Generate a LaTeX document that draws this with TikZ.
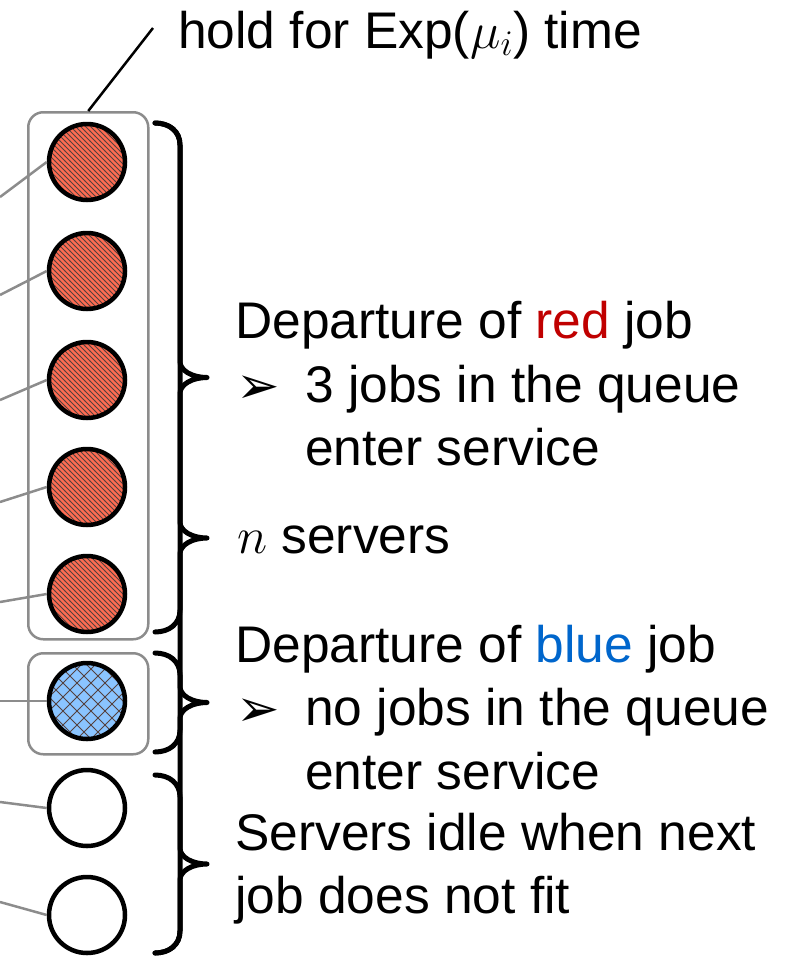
\RequirePackage{fix-cm}
\documentclass[tikz,border=0pt]{standalone}
\usepackage{fontspec}
\setmainfont{Liberation Sans}
\newfontfamily\symfont{DejaVu Sans}
\usetikzlibrary{patterns}
\definecolor{jobred}{RGB}{255,108,82}
\definecolor{jobblue}{RGB}{138,196,255}
\definecolor{hatchcol}{RGB}{85,65,62}
\definecolor{boxgray}{RGB}{140,140,140}
\definecolor{txtred}{RGB}{192,0,0}
\definecolor{txtblue}{RGB}{0,102,204}
\pgfdeclarepatternformonly{redhatch}{\pgfqpoint{-1pt}{-1pt}}{\pgfqpoint{6pt}{6pt}}{\pgfqpoint{5pt}{5pt}}{%
  \pgfsetlinewidth{0.8pt}%
  \pgfpathmoveto{\pgfqpoint{0pt}{5pt}}\pgfpathlineto{\pgfqpoint{5.1pt}{-0.1pt}}%
  \pgfusepath{stroke}}
\pgfdeclarepatternformonly{bluehatch}{\pgfqpoint{-1pt}{-1pt}}{\pgfqpoint{15pt}{15pt}}{\pgfqpoint{14pt}{14pt}}{%
  \pgfsetlinewidth{0.9pt}%
  \pgfpathmoveto{\pgfqpoint{0pt}{0pt}}\pgfpathlineto{\pgfqpoint{14.1pt}{14.1pt}}%
  \pgfpathmoveto{\pgfqpoint{0pt}{14pt}}\pgfpathlineto{\pgfqpoint{14.1pt}{-0.1pt}}%
  \pgfusepath{stroke}}
\tikzset{
  server/.style={circle, draw=black, line width=4.5pt, minimum size=76pt, inner sep=0pt},
  redjob/.style={server, preaction={fill=jobred}, pattern=redhatch, pattern color=hatchcol},
  bluejob/.style={server, preaction={fill=jobblue}, pattern=bluehatch, pattern color=hatchcol},
  idlejob/.style={server, fill=white},
  grpbox/.style={draw=boxgray, line width=2.5pt, rounded corners=15pt},
  feed/.style={draw=boxgray, line width=2.5pt},
  bracestyle/.style={draw=black, line width=5pt, line cap=round, line join=round},
  txt/.style={anchor=base west, inner sep=0pt, font=\fontsize{51.5}{60}\selectfont},
  bul/.style={anchor=base west, inner sep=0pt, font=\symfont\fontsize{52}{56}\selectfont},
}
\newcommand\vbrace[2]{%
  \pgfmathsetmacro\ym{(#1+#2)/2}%
  \draw[bracestyle] (155,#1) .. controls (169,#1) and (180,{#1+8}) .. (180,{#1+22})
    -- (180,{\ym-16}) .. controls (180,{\ym-7}) and (192,\ym) .. (207,\ym)
    .. controls (192,\ym) and (180,{\ym+7}) .. (180,{\ym+16})
    -- (180,{#2-22}) .. controls (180,{#2-8}) and (169,#2) .. (155,#2);}
\begin{document}
\begin{tikzpicture}[x=1pt,y=-1pt]
\useasboundingbox (0,0) rectangle (795,956);
% group boxes
\node[grpbox, minimum width=120pt, minimum height=527pt, anchor=north west] (redbox) at (27,111) {};
\node[grpbox, minimum width=120pt, minimum height=101pt, anchor=north west] (bluebox) at (27,652) {};
% feed lines
\coordinate (f1) at (0,197);
\coordinate (f2) at (0,295);
\coordinate (f3) at (0,400);
\coordinate (f4) at (0,502);
\coordinate (f5) at (0,602);
\coordinate (f6) at (0,701);
\coordinate (f7) at (0,802);
\coordinate (f8) at (0,902);
% servers
\node[redjob] (s1) at (87,162) {};
\node[redjob] (s2) at (87,271) {};
\node[redjob] (s3) at (87,380) {};
\node[redjob] (s4) at (87,487) {};
\node[redjob] (s5) at (87,594) {};
\node[bluejob] (s6) at (87,701) {};
\node[idlejob] (s7) at (87,808) {};
\node[idlejob] (s8) at (87,915) {};
\foreach \i in {1,...,8} \draw[feed] (s\i.west) -- (f\i);
% hold label
\coordinate (holdend) at (153,28);
\draw[line width=2.5pt] (redbox.north) -- (holdend);
\node[txt] (hold) at (178,48) {hold for Exp($\mu_i$) time};
% braces
\vbrace{123}{953}
\vbrace{123}{632}
\vbrace{653}{752}
\vbrace{775}{953}
% texts
\node[txt] (t1) at (235,338) {Departure of \textcolor{txtred}{red} job};
\node[bul] (b1) at (236,403) {➢};
\node[txt] (t2) at (305,402) {3 jobs in the queue};
\node[txt] (t3) at (305,465) {enter service};
\node[txt] (t4) at (237,553) {$n$ servers};
\node[txt] (t5) at (235,662) {Departure of \textcolor{txtblue}{blue} job};
\node[bul] (b2) at (236,726) {➢};
\node[txt] (t6) at (305,725) {no jobs in the queue};
\node[txt] (t7) at (305,789) {enter service};
\node[txt] (t8) at (235,850) {Servers idle when next};
\node[txt] (t9) at (235,913) {job does not fit};
\end{tikzpicture}
\end{document}
